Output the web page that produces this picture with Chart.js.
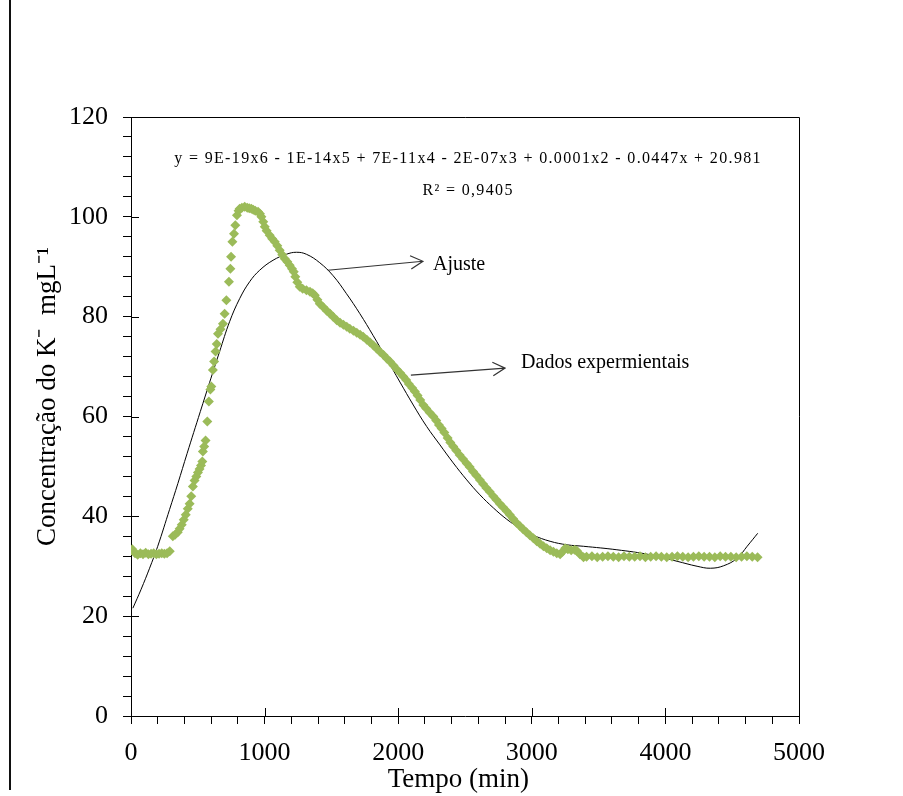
<!DOCTYPE html>
<html>
<head>
<meta charset="utf-8">
<script src="https://cdn.jsdelivr.net/npm/chart.js@4.4.0/dist/chart.umd.min.js"></script>
<style>
html, body { margin: 0; padding: 0; background: #fff; }
#wrap { position: relative; width: 903px; height: 796px; }
#edge { position: absolute; left: 9px; top: 0; width: 2px; height: 790px; background: #111; }
</style>
</head>
<body>
<div id="wrap">
  <canvas id="c" width="903" height="796"></canvas>
  <div id="edge"></div>
</div>
<script>
// experimental K concentration (green diamonds)
var expX = [10, 30, 50, 70, 90, 110, 130, 150, 170, 190, 210, 230, 250, 270, 290,
  313, 330, 350, 364, 380, 395, 410, 425, 439, 451, 463, 476, 489, 501, 513, 524, 534, 538, 548, 558, 571, 583, 594,
  601, 613, 622, 633, 642, 651, 670, 688, 701, 714, 733, 744, 749, 759, 771, 781, 793, 805, 813, 830, 851, 870, 885,
  901, 915, 930, 951, 965, 976, 990, 1001,
  1015, 1038, 1057, 1076, 1095, 1113, 1132, 1151, 1170, 1188, 1205, 1218, 1230, 1245, 1263, 1285, 1313, 1340, 1360,
  1376, 1395, 1413, 1440, 1465, 1490, 1513, 1540, 1565, 1590, 1615, 1638, 1665, 1690, 1715, 1738, 1765, 1790, 1815,
  1838, 1865, 1890, 1915, 1938, 1965, 1990, 2015, 2038, 2060, 2080, 2105, 2125, 2145, 2165, 2188, 2210, 2235, 2263,
  2285, 2305, 2325, 2345, 2370, 2390, 2412, 2435, 2460, 2485, 2513, 2535, 2560, 2585, 2612, 2635, 2660, 2685, 2712,
  2735, 2760, 2785, 2813, 2835, 2860, 2885, 2912, 2935, 2960, 2985, 3012, 3037, 3062, 3087, 3112, 3137, 3162, 3187,
  3212, 3230, 3250, 3270, 3295, 3320, 3337, 3360, 3387,
  3410, 3450, 3490, 3530, 3570, 3610, 3650, 3690, 3730, 3770, 3810, 3850, 3890, 3930, 3970, 4010, 4050, 4090, 4130,
  4170, 4210, 4250, 4290, 4330, 4370, 4410, 4450, 4490, 4530, 4570, 4610, 4650, 4690];
var expY = [33.4, 32.6, 32.3, 32.6, 32.4, 32.7, 32.4, 32.5, 32.6, 32.4, 32.5, 32.6, 32.5, 32.6, 33.0,
  36.0, 36.3, 36.8, 37.5, 38.3, 39.3, 40.3, 41.5, 42.5, 44, 46, 47.2, 48, 48.8, 49.5, 50.2, 51, 53, 54, 55.2, 59, 63, 65.4,
  66, 69.3, 71, 73, 74.5, 76.6, 77.5, 78.6, 80.6, 83.3, 87, 89.6, 92, 95, 96.6, 98.3, 100.3, 101.2, 101.6, 101.8, 102, 101.8, 101.7,
  101.6, 101.4, 101.2, 101, 100.6, 100, 99, 98,
  97.2, 96.3, 95.6, 95, 94.2, 93.3, 92.4, 91.6, 91, 90.3, 89.6, 89, 88, 86.9, 86, 85.6, 85.3, 85, 84.7,
  84.3, 83.4, 82.6, 81.9, 81.2, 80.6, 80, 79.3, 78.8, 78.4, 78, 77.6, 77.2, 76.8, 76.4, 76, 75.4, 74.8, 74.2,
  73.6, 72.9, 72.3, 71.6, 71, 70.2, 69.4, 68.7, 68, 67.3, 66.5, 65.7, 65, 64.2, 63.3, 62.3, 61.6, 60.8, 60,
  59.2, 58.3, 57.6, 56.8, 55.7, 54.8, 54, 53.2, 52.3, 51.5, 50.6, 49.9, 49, 48.2, 47.3, 46.5, 45.7, 44.9, 44,
  43.3, 42.5, 41.8, 41, 40.3, 39.5, 38.7, 38, 37.4, 36.8, 36.2, 35.6, 35, 34.5, 34, 33.6, 33.2, 32.9, 32.6,
  32.4, 32.9, 33.6, 33.4, 33.2, 33.3, 33.1, 32.4, 31.8,
  31.9, 32.0, 31.8, 31.9, 32.0, 31.9, 31.8, 32.0, 31.9, 31.9, 32.0, 31.8, 31.9, 32.0, 31.9, 31.8, 31.9, 32.0, 31.9,
  31.8, 31.9, 32.0, 31.9, 31.9, 31.8, 32.0, 31.9, 31.9, 31.8, 31.9, 32.0, 31.9, 31.8];

// polynomial fit (thin black line)
var fitX = [14, 76, 139, 200, 289, 351, 420, 519, 588, 663, 738, 813, 888, 963, 1063, 1163, 1238, 1313, 1413,
  1513, 1613, 1713, 1813, 1913, 2013, 2113, 2213, 2313, 2412, 2513, 2612, 2712, 2813, 2912, 3012, 3137, 3262, 3387,
  3637, 3887, 4087, 4237, 4337, 4436, 4537, 4612, 4691];
var fitY = [21.6, 25.4, 29.6, 34, 41.4, 46.6, 52.6, 61, 66.8, 73, 79, 83.6, 87, 89.3, 91.3, 92.5, 92.9, 92.5, 90.8,
  88.2, 84.6, 80.6, 76.2, 71.6, 66.9, 62.3, 58, 54.3, 50.7, 47.3, 44.3, 41.7, 39.4, 37.6, 36.2, 35, 34.3, 34,
  33.3, 32.3, 31, 30, 29.6, 30.1, 31.6, 34, 36.6];

var xTicksMajor = [0, 1000, 2000, 3000, 4000, 5000];
var yTicksMajor = [0, 20, 40, 60, 80, 100, 120];

var serif = "'Liberation Serif', 'Times New Roman', serif";
var equation = 'y = 9E-19x6 - 1E-14x5 + 7E-11x4 - 2E-07x3 + 0.0001x2 - 0.0447x + 20.981';
var rSquared = 'R² = 0,9405';

function pts(xs, ys) {
  var out = [];
  for (var i = 0; i < xs.length; i++) out.push({x: xs[i], y: ys[i]});
  return out;
}

function arrow(ctx, x1, y1, x2, y2) {
  var a = Math.atan2(y2 - y1, x2 - x1);
  ctx.beginPath();
  ctx.moveTo(x1, y1);
  ctx.lineTo(x2, y2);
  ctx.moveTo(x2 - 14 * Math.cos(a - 0.5), y2 - 14 * Math.sin(a - 0.5));
  ctx.lineTo(x2, y2);
  ctx.lineTo(x2 - 14 * Math.cos(a + 0.5), y2 - 14 * Math.sin(a + 0.5));
  ctx.stroke();
}

var decor = {
  id: 'decor',
  afterDraw: function(chart) {
    var ctx = chart.ctx, a = chart.chartArea;
    var xs = chart.scales.x, ys = chart.scales.y;
    ctx.save();
    ctx.strokeStyle = '#000';
    ctx.lineWidth = 1;
    // top and right frame
    ctx.beginPath();
    ctx.moveTo(a.left, a.top + 0.5);
    ctx.lineTo(a.right + 0.5, a.top + 0.5);
    ctx.lineTo(a.right + 0.5, a.bottom);
    ctx.stroke();
    // inner half of major ticks
    ctx.beginPath();
    xTicksMajor.forEach(function(v) {
      var p = Math.round(xs.getPixelForValue(v)) + 0.5;
      ctx.moveTo(p, a.bottom);
      ctx.lineTo(p, a.bottom - 8);
    });
    yTicksMajor.forEach(function(v) {
      var p = Math.round(ys.getPixelForValue(v)) + 0.5;
      ctx.moveTo(a.left, p);
      ctx.lineTo(a.left + 8, p);
    });
    ctx.stroke();

    ctx.fillStyle = '#000';
    // axis titles
    ctx.font = '27px ' + serif;
    ctx.textAlign = 'center';
    ctx.textBaseline = 'alphabetic';
    ctx.fillText('Tempo (min)', xs.getPixelForValue(2450), 787);
    ctx.save();
    ctx.translate(55, ys.getPixelForValue(64));
    ctx.rotate(-Math.PI / 2);
    ctx.fillText('Concentração do K⁻  mgL⁻¹', 0, 0);
    ctx.restore();

    // trendline equation
    ctx.font = '16px ' + serif;
    ctx.textBaseline = 'middle';
    ctx.letterSpacing = '1.35px';
    ctx.fillText(equation, xs.getPixelForValue(2523), ys.getPixelForValue(111.7));
    ctx.fillText(rSquared, xs.getPixelForValue(2523), ys.getPixelForValue(105.3));
    ctx.letterSpacing = '0px';

    // labels with arrows
    ctx.font = '20px ' + serif;
    ctx.textAlign = 'left';
    ctx.fillText('Ajuste', xs.getPixelForValue(2260), ys.getPixelForValue(90.5));
    ctx.fillText('Dados expermientais', xs.getPixelForValue(2920), ys.getPixelForValue(70.7));
    ctx.strokeStyle = '#333';
    ctx.lineWidth = 1.2;
    arrow(ctx, xs.getPixelForValue(1473), ys.getPixelForValue(89.3), xs.getPixelForValue(2185), ys.getPixelForValue(91.1));
    arrow(ctx, xs.getPixelForValue(2095), ys.getPixelForValue(68.3), xs.getPixelForValue(2800), ys.getPixelForValue(69.7));
    ctx.restore();
  }
};

var ctx = document.getElementById('c').getContext('2d');
var myChart = new Chart(ctx, {
  type: 'scatter',
  data: {
    datasets: [{
      label: 'Dados experimentais',
      data: pts(expX, expY),
      pointStyle: 'rectRot',
      pointRadius: 5,
      backgroundColor: '#9BBB59',
      borderColor: '#9BBB59',
      borderWidth: 0,
      showLine: false
    }, {
      label: 'Ajuste',
      data: pts(fitX, fitY),
      showLine: true,
      pointRadius: 0,
      borderColor: '#000',
      borderWidth: 1,
      tension: 0.4,
      fill: false
    }]
  },
  options: {
    responsive: false,
    animation: false,
    layout: { padding: { top: 117, right: 104, left: 0, bottom: 0 } },
    plugins: { legend: { display: false }, tooltip: { enabled: false } },
    scales: {
      x: {
        type: 'linear',
        min: 0,
        max: 5000,
        afterFit: function(s) { s.height = 80; },
        ticks: {
          stepSize: 200,
          autoSkip: false,
          maxRotation: 0,
          padding: 14,
          color: '#000',
          font: { family: serif, size: 26 },
          callback: function(v) { return v % 1000 === 0 ? v : ''; }
        },
        grid: { drawOnChartArea: false, drawTicks: true, tickLength: 8, color: '#000', tickColor: '#000' },
        border: { color: '#000', width: 1 }
      },
      y: {
        min: 0,
        max: 120,
        afterFit: function(s) { s.width = 131; },
        ticks: {
          stepSize: 4,
          autoSkip: false,
          padding: 15,
          color: '#000',
          font: { family: serif, size: 26 },
          callback: function(v) { return v % 20 === 0 ? v : ''; }
        },
        grid: { drawOnChartArea: false, drawTicks: true, tickLength: 8, color: '#000', tickColor: '#000' },
        border: { color: '#000', width: 1 }
      }
    }
  },
  plugins: [decor]
});
</script>
</body>
</html>
